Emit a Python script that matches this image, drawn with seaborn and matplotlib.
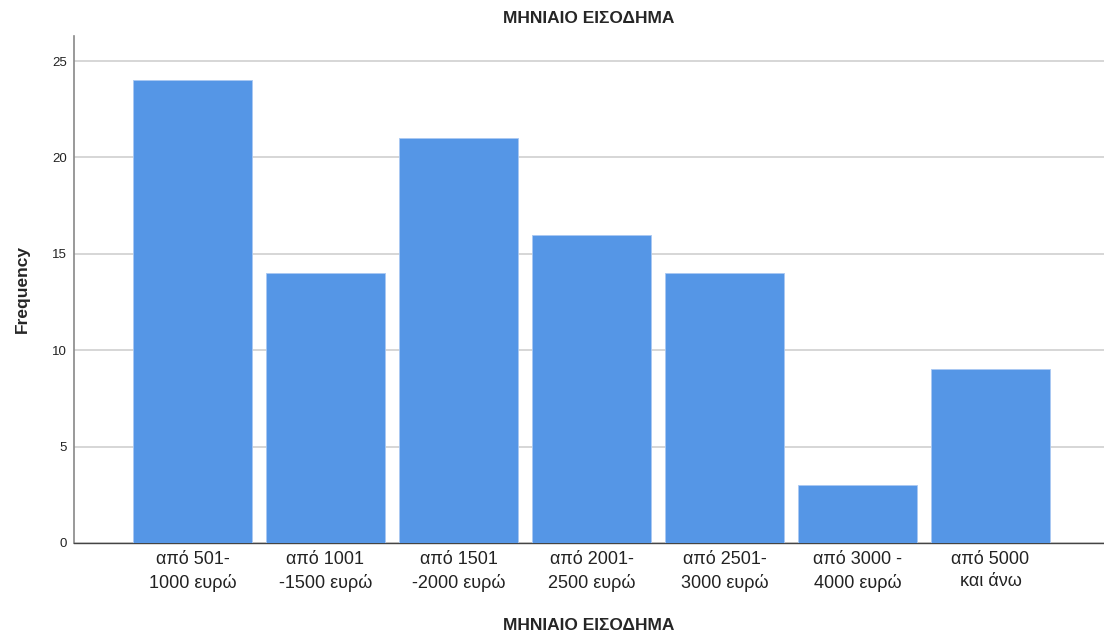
import pandas as pd
import matplotlib
matplotlib.use('Agg')
import matplotlib.pyplot as plt
import seaborn as sns

# Data
categories = ['από 501-\n1000 ευρώ', 'από 1001\n-1500 ευρώ', 'από 1501\n-2000 ευρώ',
              'από 2001-\n2500 ευρώ', 'από 2501-\n3000 ευρώ', 'από 3000 -\n4000 ευρώ',
              'από 5000\nκαι άνω']
frequency = [24, 14, 21, 16, 14, 3, 9]
y_ticks = [0, 5, 10, 15, 20, 25]

df = pd.DataFrame({'income': categories, 'freq': frequency})

sns.set_style('white')
plt.rcParams['font.family'] = ['Liberation Sans', 'DejaVu Sans']

fig = plt.figure(figsize=(11.04, 6.38), dpi=100)
ax = fig.add_axes([0.067, 0.149, 0.933, 0.7946])

sns.barplot(data=df, x='income', y='freq', color='#5596E6', saturation=1,
            width=0.895, edgecolor='#A9C8F2', linewidth=0.6, ax=ax, zorder=3)

ax.set_xlim(-0.891, 6.853)
ax.set_ylim(0, 26.3)
ax.set_yticks(y_ticks)
ax.yaxis.grid(True, color='#D3D3D3', linewidth=1.3, zorder=0)
ax.set_axisbelow(True)

for s in ['top', 'right']:
    ax.spines[s].set_visible(False)
ax.spines['left'].set_color('#888888')
ax.spines['bottom'].set_color('#444444')
ax.spines['left'].set_linewidth(1.2)
ax.spines['bottom'].set_linewidth(1.0)

ax.tick_params(axis='x', length=0, labelsize=13, colors='#222222', pad=6)
ax.tick_params(axis='y', length=0, labelsize=9.5, colors='#222222', pad=5)
for lbl in ax.get_xticklabels():
    lbl.set_linespacing(1.4)

ax.set_title('ΜΗΝΙΑΙΟ ΕΙΣΟΔΗΜΑ', fontsize=12.5, fontweight='bold', pad=9)
ax.set_xlabel('ΜΗΝΙΑΙΟ ΕΙΣΟΔΗΜΑ', fontsize=12.5, fontweight='bold', labelpad=19)
ax.set_ylabel('Frequency', fontsize=12.5, fontweight='bold', labelpad=16)

fig.savefig('out.png', dpi=100)
